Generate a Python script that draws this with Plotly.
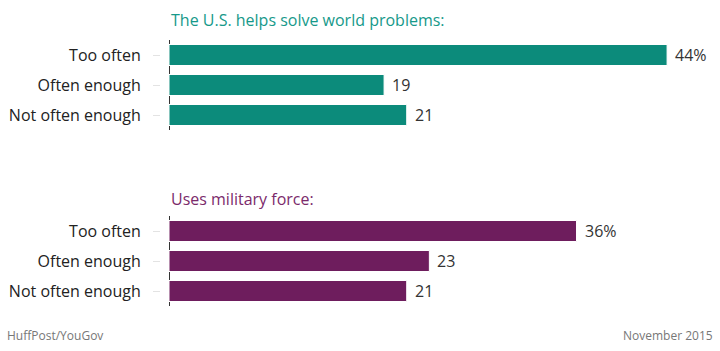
import plotly.graph_objects as go

categories = ["Too often", "Often enough", "Not often enough"]
world_problems = [44, 19, 21]
military_force = [36, 23, 21]
title_top = "The U.S. helps solve world problems:"
title_bottom = "Uses military force:"
source = "HuffPost/YouGov"
date = "November 2015"

W, H = 720, 351
TEAL = "#0c8b7b"
PURPLE = "#6e1d5d"
FONT = "Open Sans"

def labels(vals):
    return [f"{v}%" if i == 0 else str(v) for i, v in enumerate(vals)]

fig = go.Figure()
annotations = []
for vals, color, xa, ya in [(world_problems, TEAL, "x", "y"), (military_force, PURPLE, "x2", "y2")]:
    fig.add_trace(go.Bar(
        x=vals, y=categories, orientation="h",
        marker=dict(color=color, line=dict(color="#ffffff", width=1)),
        width=0.7, xaxis=xa, yaxis=ya, hoverinfo="skip",
    ))
    for v, c, t in zip(vals, categories, labels(vals)):
        annotations.append(dict(
            text=t, x=v, y=c, xref=xa, yref=ya, xanchor="left", yanchor="middle",
            xshift=6, showarrow=False,
            font=dict(family=FONT, size=16, color="#333333")))

x0 = 169 / W
xrange = [0, (W - 169) / 11.32]
xcommon = dict(domain=[x0, 1], range=xrange, showticklabels=False, showgrid=False,
               zeroline=True, zerolinecolor="#333333", zerolinewidth=1, showline=False, ticks="")
ycommon = dict(type="category", categoryorder="array", categoryarray=categories,
               autorange="reversed", anchor="free", position=160 / W,
               showline=False, showgrid=False, zeroline=False,
               ticks="outside", ticklen=7, tickwidth=1, tickcolor="#e3e3e3",
               ticklabelstandoff=9,
               tickfont=dict(family=FONT, size=16, color="#222222"))

annotations += [
    dict(text=title_top, x=x0, y=1 - 20 / H, xref="paper", yref="paper",
         xanchor="left", yanchor="middle", showarrow=False,
         font=dict(family=FONT, size=16, color="#16998a")),
    dict(text=title_bottom, x=x0, y=1 - 199 / H, xref="paper", yref="paper",
         xanchor="left", yanchor="middle", showarrow=False,
         font=dict(family=FONT, size=16, color="#7b2a6b")),
    dict(text=source, x=5 / W, y=1 - 335 / H, xref="paper", yref="paper",
         xanchor="left", yanchor="middle", showarrow=False,
         font=dict(family=FONT, size=12, color="#777777")),
    dict(text=date, x=715 / W, y=1 - 335 / H, xref="paper", yref="paper",
         xanchor="right", yanchor="middle", showarrow=False,
         font=dict(family=FONT, size=12, color="#777777")),
]

fig.update_layout(
    width=W, height=H, margin=dict(l=0, r=0, t=0, b=0),
    paper_bgcolor="white", plot_bgcolor="white", showlegend=False,
    xaxis=dict(anchor="y", **xcommon),
    xaxis2=dict(anchor="y2", **xcommon),
    yaxis=dict(domain=[1 - 130 / H, 1 - 40 / H], **ycommon),
    yaxis2=dict(domain=[1 - 306 / H, 1 - 216 / H], **ycommon),
    annotations=annotations,
)

fig.write_html("out.html")
